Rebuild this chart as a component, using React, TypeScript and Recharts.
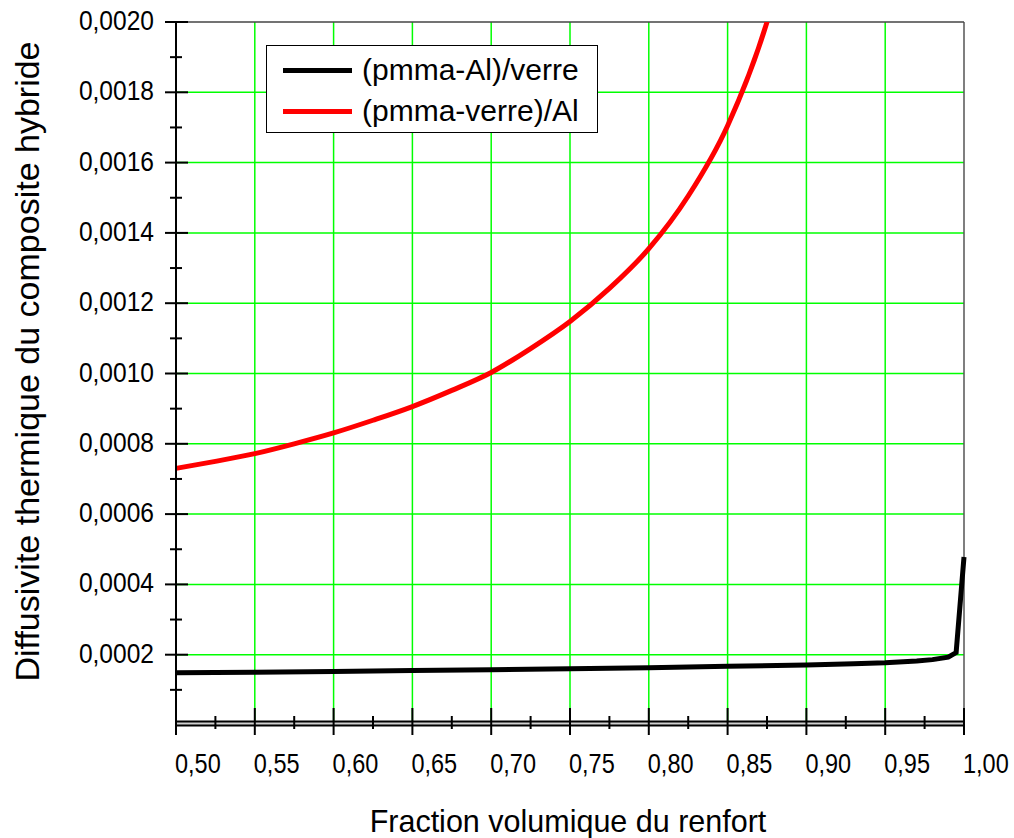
import React from 'react';
import { LineChart, Line, XAxis, YAxis, CartesianGrid, Legend, ReferenceLine } from 'recharts';

const FONT = '"Liberation Sans", Arial, sans-serif';

// fraction volumique (x) et diffusivite (y)
const fractionsNoir = [0.5, 0.55, 0.6, 0.65, 0.7, 0.75, 0.8, 0.85, 0.9, 0.93, 0.95, 0.97, 0.98, 0.99, 0.995, 1.0];
const diffNoir = [0.000149, 0.00015, 0.000152, 0.000155, 0.000157, 0.00016, 0.000163, 0.000167, 0.000171, 0.000174, 0.000177, 0.000182, 0.000186, 0.000193, 0.000206, 0.000478];

const fractionsRouge = [0.5, 0.525, 0.55, 0.575, 0.6, 0.625, 0.65, 0.675, 0.7, 0.725, 0.75, 0.775, 0.8, 0.825, 0.85, 0.875, 0.9];
const diffRouge = [0.00073, 0.00075, 0.000772, 0.0008, 0.000831, 0.000867, 0.000906, 0.000952, 0.001003, 0.001071, 0.001148, 0.001242, 0.001355, 0.001505, 0.001705, 0.002, 0.00244];

const xTicks = [0.5, 0.525, 0.55, 0.575, 0.6, 0.625, 0.65, 0.675, 0.7, 0.725, 0.75, 0.775, 0.8, 0.825, 0.85, 0.875, 0.9, 0.925, 0.95, 0.975, 1.0];
const yTicks = [0, 0.0001, 0.0002, 0.0003, 0.0004, 0.0005, 0.0006, 0.0007, 0.0008, 0.0009, 0.001, 0.0011, 0.0012, 0.0013, 0.0014, 0.0015, 0.0016, 0.0017, 0.0018, 0.0019, 0.002];
const xGrid = [0.55, 0.6, 0.65, 0.7, 0.75, 0.8, 0.85, 0.9, 0.95];
const yGrid = [0.0002, 0.0004, 0.0006, 0.0008, 0.001, 0.0012, 0.0014, 0.0016, 0.0018];

const noirData = fractionsNoir.map((x, i) => ({ x, y: diffNoir[i] }));
const rougeData = fractionsRouge.map((x, i) => ({ x, y: diffRouge[i] }));

const XTick = (props: any) => {
  const { x, y, payload } = props;
  const v = payload.value;
  const major = Math.round(v * 1000) % 50 === 0;
  return (
    <g>
      <line x1={x} x2={x} y1={major ? y - 17 : y - 9} y2={major ? y + 10 : y + 4} stroke="#000" strokeWidth={2} />
      {major && (
        <text transform={`translate(${x - 1} ${y + 48}) scale(0.84 1)`} fontSize={28} fontFamily={FONT} fill="#000">
          {v.toFixed(2).replace('.', ',')}
        </text>
      )}
    </g>
  );
};

const YTick = (props: any) => {
  const { x, y, payload } = props;
  const v = payload.value;
  if (v === 0) return <g />;
  const major = Math.round(v * 10000) % 2 === 0;
  return (
    <g>
      <line x1={major ? x - 11 : x - 6} x2={major ? x + 12 : x + 6} y1={y} y2={y} stroke="#000" strokeWidth={2} />
      {major && (
        <text transform={`translate(${x - 22} ${y + 8}) scale(0.91 1)`} textAnchor="end" fontSize={27} fontFamily={FONT} fill="#000">
          {v.toFixed(4).replace('.', ',')}
        </text>
      )}
    </g>
  );
};

// double trait de l'axe des abscisses
const DoubleLine = (p: any) => (
  <g>
    <line x1={p.x1} x2={p.x2} y1={p.y1 - 1.5} y2={p.y2 - 1.5} stroke="#d0d0d0" strokeWidth={3} />
    <line x1={p.x1} x2={p.x2} y1={p.y1 - 3.5} y2={p.y2 - 3.5} stroke="#000" strokeWidth={2} />
    <line x1={p.x1} x2={p.x2} y1={p.y1 + 0.5} y2={p.y2 + 0.5} stroke="#000" strokeWidth={2} />
  </g>
);

const LegendBox = (props: any) => {
  const items = props.payload || [];
  return (
    <div style={{ width: 330, height: 86, border: '1.5px solid #000', background: '#fff', position: 'relative', fontFamily: FONT, fontSize: 30, color: '#000' }}>
      {items.map((it: any, i: number) => (
        <div key={i} style={{ position: 'absolute', left: 16, top: 7 + i * 41, height: 34, lineHeight: '34px', display: 'flex', alignItems: 'center', whiteSpace: 'nowrap' }}>
          <span style={{ display: 'inline-block', width: 69, height: 5, background: it.color }} />
          <span style={{ marginLeft: 10 }}>{it.value}</span>
        </div>
      ))}
    </div>
  );
};

const YLabel = (p: any) => {
  const vb = p.viewBox || { x: 0, y: 22, width: 176, height: 703 };
  const cx = vb.x + 27;
  const cy = vb.y + vb.height / 2 - 12;
  return (
    <text x={cx} y={cy} transform={`rotate(-90 ${cx} ${cy})`} textAnchor="middle" dominantBaseline="central" fontSize={34} fontFamily={FONT} fill="#000">
      Diffusivite thermique du composite hybride
    </text>
  );
};

const XLabel = (p: any) => {
  const vb = p.viewBox || { x: 176, y: 725, width: 788, height: 113 };
  return (
    <text x={vb.x + vb.width / 2 - 2} y={vb.y + 107} textAnchor="middle" fontSize={30.5} fontFamily={FONT} fill="#000">
      Fraction volumique du renfort
    </text>
  );
};

export default function App() {
  return (
    <div style={{ position: 'absolute', left: 0, top: 0, width: 1014, height: 838, background: '#fff', fontFamily: FONT }}>
      <LineChart width={1014} height={838} margin={{ top: 22, right: 50, bottom: 0, left: 0 }}>
        <CartesianGrid stroke="#00ff00" strokeWidth={1.5} verticalValues={xGrid} horizontalValues={yGrid} />
        <XAxis
          dataKey="x"
          type="number"
          domain={[0.5, 1]}
          ticks={xTicks}
          interval={0}
          tickSize={0}
          tickMargin={0}
          height={113}
          axisLine={false}
          tick={<XTick />}
          label={{ content: <XLabel /> }}
        />
        <YAxis
          type="number"
          domain={[0, 0.002]}
          allowDataOverflow
          ticks={yTicks}
          interval={0}
          tickSize={0}
          tickMargin={0}
          width={176}
          axisLine={{ stroke: '#000', strokeWidth: 2 }}
          tick={<YTick />}
          label={{ content: <YLabel /> }}
        />
        <ReferenceLine x={1} stroke="#555" strokeWidth={1.5} />
        <ReferenceLine y={0.002} stroke="#444" strokeWidth={1.5} />
        <ReferenceLine y={0} shape={<DoubleLine />} />
        <Line data={noirData} dataKey="y" name="(pmma-Al)/verre" type="linear" stroke="#000" strokeWidth={5} dot={false} isAnimationActive={false} />
        <Line data={rougeData} dataKey="y" name="(pmma-verre)/Al" type="monotone" stroke="#ff0000" strokeWidth={5} dot={false} isAnimationActive={false} />
        <Legend
          layout="vertical"
          align="center"
          verticalAlign="middle"
          content={<LegendBox />}
          wrapperStyle={{ left: 266, top: 45, width: 332, height: 88 }}
        />
      </LineChart>
    </div>
  );
}
